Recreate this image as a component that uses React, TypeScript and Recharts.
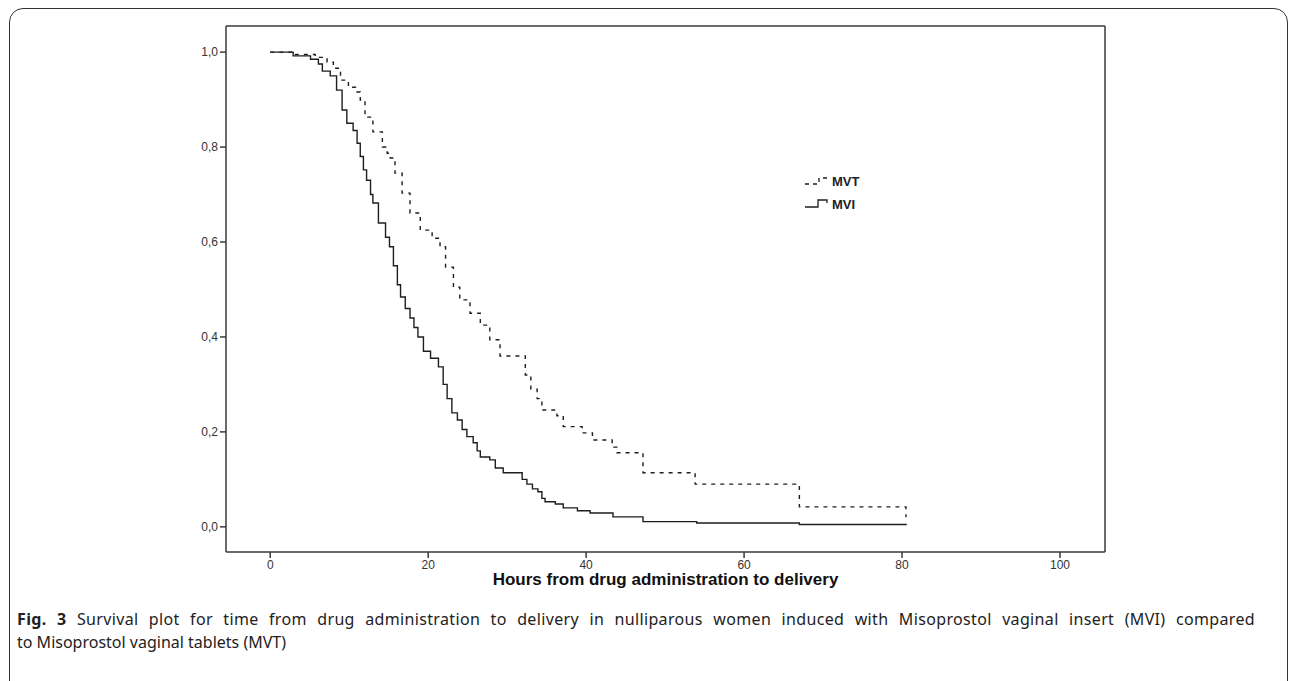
import React from "react";
import { LineChart, Line, XAxis, YAxis, Legend, ReferenceLine } from "recharts";

const mviTimes = [0, 2.9, 5.1, 6.1, 6.6, 7.6, 8.4, 9.1, 9.7, 10.5, 11, 11.4, 11.8, 12.2, 12.7, 13, 13.7, 14.6, 15.1, 15.6, 16.1, 16.5, 17.1, 17.7, 18.2, 18.7, 19.4, 20.3, 21.3, 21.9, 22.4, 23, 23.7, 24.3, 24.9, 25.7, 26.2, 26.6, 27.8, 28.5, 29.5, 31.9, 32.5, 33.2, 33.9, 34.4, 34.8, 36.1, 37.1, 38.9, 40.5, 43.4, 47.2, 54, 67, 80.6];
const mviSurv = [1.0, 0.992, 0.985, 0.975, 0.96, 0.95, 0.92, 0.878, 0.85, 0.835, 0.808, 0.78, 0.752, 0.73, 0.7, 0.682, 0.64, 0.61, 0.59, 0.55, 0.51, 0.484, 0.46, 0.44, 0.42, 0.4, 0.37, 0.355, 0.337, 0.3, 0.27, 0.24, 0.225, 0.205, 0.19, 0.177, 0.16, 0.147, 0.141, 0.124, 0.114, 0.1, 0.09, 0.08, 0.074, 0.06, 0.053, 0.048, 0.04, 0.034, 0.029, 0.021, 0.011, 0.008, 0.005, 0.005];

const mvtTimes = [0, 3, 5.7, 7.2, 8, 8.9, 9.9, 10.8, 11.4, 12, 13, 14.2, 14.8, 15.2, 15.8, 16.7, 17.7, 19, 20.5, 21.5, 22.2, 23.2, 24, 25.3, 26.6, 27.8, 29.1, 32.3, 33, 33.8, 34.4, 36.3, 37.1, 39.5, 40.8, 43.3, 43.9, 47.2, 53.8, 67, 80.5];
const mvtSurv = [1.0, 0.995, 0.989, 0.979, 0.966, 0.941, 0.926, 0.916, 0.899, 0.863, 0.832, 0.8, 0.787, 0.777, 0.745, 0.703, 0.661, 0.625, 0.608, 0.59, 0.547, 0.505, 0.478, 0.45, 0.425, 0.394, 0.36, 0.32, 0.29, 0.27, 0.246, 0.234, 0.211, 0.198, 0.183, 0.168, 0.156, 0.114, 0.09, 0.042, 0.02];

const xTicks = [0, 20, 40, 60, 80, 100];
const yTicks = [0, 0.2, 0.4, 0.6, 0.8, 1.0];
const xDomain = [-5.6, 105.7];
const yDomain = [-0.053, 1.055];

const mviData = mviTimes.map((t, i) => ({ t, s: mviSurv[i] }));
const mvtData = mvtTimes.map((t, i) => ({ t, s: mvtSurv[i] }));

const AXIS = "#3a3a3a";
const LINE = "#1e1e1e";

const LegendContent = () => (
  <svg width={80} height={44} style={{ overflow: "visible" }}>
    <path d="M0 10 H14 V4 H22" stroke={LINE} strokeWidth={1.3} fill="none" strokeDasharray="4 4" />
    <text x={27} y={12} fontFamily="Liberation Sans, Arial, sans-serif" fontWeight="bold" fontSize={13} fill="#222">MVT</text>
    <path d="M0 33 H13 V26 H22 V29" stroke={LINE} strokeWidth={1.3} fill="none" />
    <text x={27} y={35} fontFamily="Liberation Sans, Arial, sans-serif" fontWeight="bold" fontSize={13} fill="#222">MVI</text>
  </svg>
);

export default function App() {
  return (
    <div style={{ position: "absolute", left: 0, top: 0, width: 1292, height: 681, background: "#fff", overflow: "hidden" }}>
      <div style={{ position: "absolute", left: 9, top: 8, width: 1279, height: 690, border: "1.5px solid #333", borderRadius: 14, boxSizing: "border-box" }} />
      <div style={{ position: "absolute", left: 0, top: 0 }}>
        <LineChart width={1292} height={681} margin={{ top: 26, right: 187, bottom: 99, left: 166 }}>
          <XAxis
            type="number"
            dataKey="t"
            domain={xDomain}
            ticks={xTicks}
            allowDataOverflow
            height={30}
            stroke={AXIS}
            strokeWidth={1.5}
            tickSize={6}
            tick={{ fill: "#333", fontSize: 12, fontFamily: "Liberation Sans, Arial, sans-serif" }}
            label={{ value: "Hours from drug administration to delivery", position: "insideBottom", offset: -3, fill: "#111", fontSize: 17, fontWeight: "bold", fontFamily: "Liberation Sans, Arial, sans-serif" }}
          />
          <YAxis
            type="number"
            domain={yDomain}
            ticks={yTicks}
            allowDataOverflow
            width={60}
            stroke={AXIS}
            strokeWidth={1.5}
            tickSize={6}
            tickFormatter={(v: number) => v.toFixed(1).replace(".", ",")}
            tick={{ fill: "#333", fontSize: 12, fontFamily: "Liberation Sans, Arial, sans-serif" }}
          />
          <ReferenceLine y={yDomain[1]} stroke={AXIS} strokeWidth={1.5} />
          <ReferenceLine x={xDomain[1]} stroke={AXIS} strokeWidth={1.5} />
          <Legend content={<LegendContent />} layout="horizontal" verticalAlign="middle" align="center" wrapperStyle={{ left: 805, top: 174, width: 80 }} />
          <Line data={mvtData} dataKey="s" name="MVT" type="stepAfter" stroke={LINE} strokeWidth={1.4} strokeDasharray="4 5" dot={false} isAnimationActive={false} />
          <Line data={mviData} dataKey="s" name="MVI" type="stepAfter" stroke={LINE} strokeWidth={1.4} dot={false} isAnimationActive={false} />
        </LineChart>
      </div>
      <div style={{ position: "absolute", left: 17, top: 608, width: 1238, fontFamily: "Noto Sans, sans-serif", fontSize: 16, color: "#222", lineHeight: "23px" }}>
        <div style={{ textAlign: "justify", textAlignLast: "justify", whiteSpace: "normal", letterSpacing: 0.35 }}><b>Fig. 3</b> Survival plot for time from drug administration to delivery in nulliparous women induced with Misoprostol vaginal insert (MVI) compared</div>
        <div style={{ whiteSpace: "nowrap" }}>to Misoprostol vaginal tablets (MVT)</div>
      </div>
    </div>
  );
}
